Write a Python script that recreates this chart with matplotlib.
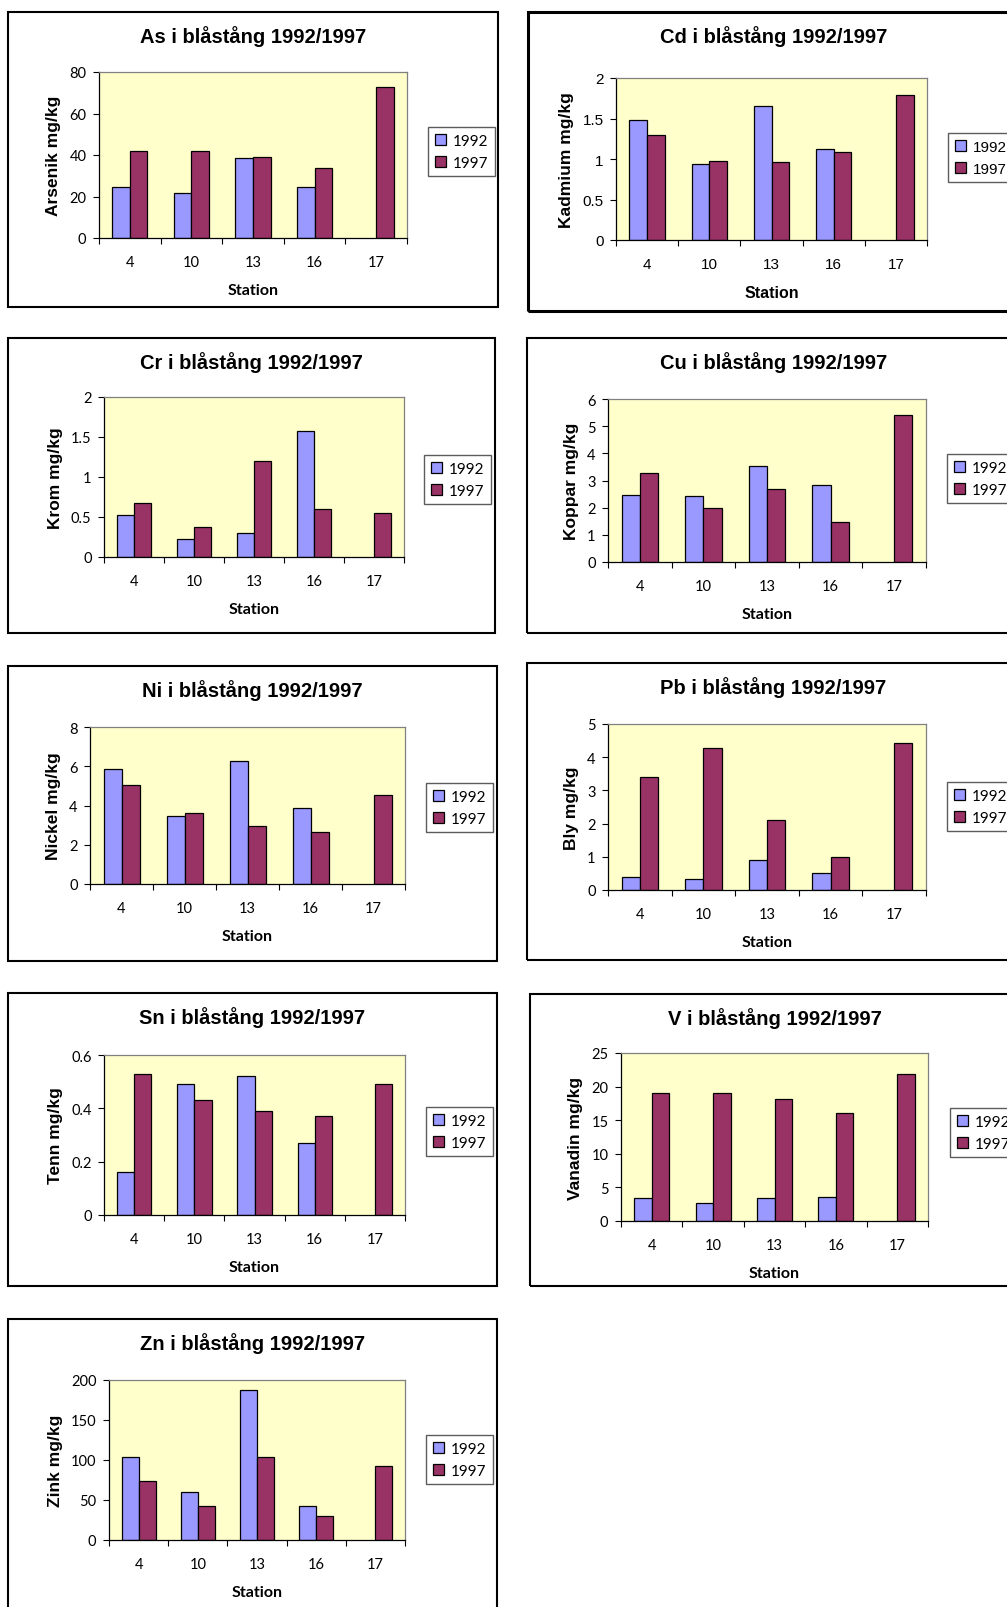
import numpy as np
import matplotlib
matplotlib.use("Agg")
import matplotlib.pyplot as plt
from matplotlib.patches import Rectangle
from matplotlib.ticker import FuncFormatter

# DATA (mg/kg in bladder wrack, 1992 vs 1997)

stations = ["4", "10", "13", "16", "17"]

as_1992 = [24.5, 21.5, 38.5, 24.5, np.nan]
as_1997 = [42.0, 42.0, 39.0, 33.5, 73.0]

cd_1992 = [1.48, 0.94, 1.66, 1.12, np.nan]
cd_1997 = [1.30, 0.98, 0.96, 1.09, 1.79]

cr_1992 = [0.52, 0.22, 0.30, 1.58, np.nan]
cr_1997 = [0.68, 0.38, 1.20, 0.60, 0.55]

cu_1992 = [2.48, 2.42, 3.53, 2.83, np.nan]
cu_1997 = [3.28, 2.00, 2.69, 1.48, 5.41]

ni_1992 = [5.88, 3.46, 6.27, 3.85, np.nan]
ni_1997 = [5.07, 3.61, 2.97, 2.64, 4.51]

pb_1992 = [0.38, 0.32, 0.90, 0.52, np.nan]
pb_1997 = [3.41, 4.28, 2.12, 1.00, 4.43]

sn_1992 = [0.16, 0.49, 0.52, 0.27, np.nan]
sn_1997 = [0.53, 0.43, 0.39, 0.37, 0.49]

v_1992 = [3.4, 2.7, 3.4, 3.6, np.nan]
v_1997 = [19.0, 19.0, 18.1, 16.0, 21.9]

zn_1992 = [104, 60, 188, 42, np.nan]
zn_1997 = [74, 42, 104, 30, 92]

# LAYOUT (pixel boxes in the 1007x1608 picture: left, top, right, bottom)

W, H = 1007, 1608
C1992 = "#9999FF"
C1997 = "#993366"

panels = [
    dict(title="As i blåstång 1992/1997", ylabel="Arsenik mg/kg", v92=as_1992, v97=as_1997,
         ymax=80, step=20, frame=(8, 13, 498, 308), plot=(99, 73, 407, 239), legend=(428, 128)),
    dict(title="Cd i blåstång 1992/1997", ylabel="Kadmium mg/kg", v92=cd_1992, v97=cd_1997,
         ymax=2, step=0.5, frame=(528, 13, 1020, 312), plot=(616, 79, 927, 241), legend=(948, 134),
         arial=True),
    dict(title="Cr i blåstång 1992/1997", ylabel="Krom mg/kg", v92=cr_1992, v97=cr_1997,
         ymax=2, step=0.5, frame=(8, 339, 495, 634), plot=(104, 398, 404, 558), legend=(424, 456)),
    dict(title="Cu i blåstång 1992/1997", ylabel="Koppar mg/kg", v92=cu_1992, v97=cu_1997,
         ymax=6, step=1, frame=(527, 339, 1020, 634), plot=(608, 400, 926, 563), legend=(947, 455)),
    dict(title="Ni i blåstång 1992/1997", ylabel="Nickel mg/kg", v92=ni_1992, v97=ni_1997,
         ymax=8, step=2, frame=(8, 667, 497, 962), plot=(90, 728, 405, 885), legend=(426, 784)),
    dict(title="Pb i blåstång 1992/1997", ylabel="Bly mg/kg", v92=pb_1992, v97=pb_1997,
         ymax=5, step=1, frame=(527, 664, 1020, 961), plot=(608, 725, 926, 891), legend=(947, 783)),
    dict(title="Sn i blåstång 1992/1997", ylabel="Tenn mg/kg", v92=sn_1992, v97=sn_1997,
         ymax=0.6, step=0.2, frame=(8, 994, 497, 1287), plot=(104, 1056, 405, 1216), legend=(426, 1108)),
    dict(title="V i blåstång 1992/1997", ylabel="Vanadin mg/kg", v92=v_1992, v97=v_1997,
         ymax=25, step=5, frame=(530, 995, 1020, 1287), plot=(621, 1054, 928, 1222), legend=(950, 1109)),
    dict(title="Zn i blåstång 1992/1997", ylabel="Zink mg/kg", v92=zn_1992, v97=zn_1997,
         ymax=200, step=50, frame=(8, 1320, 497, 1625), plot=(109, 1381, 405, 1541), legend=(426, 1436)),
]


def fig_box(l, t, r, b):
    return [l / W, 1 - b / H, (r - l) / W, (b - t) / H]


fig = plt.figure(figsize=(W / 100, H / 100), dpi=100)
fig.patch.set_facecolor("white")


def draw_panel(p):
    arial = p.get("arial", False)
    tick_font = "Liberation Sans" if arial else "Lato"
    tick_size = 11 if arial else 10.5

    # chart frame
    fl, ft, fr, fb = p["frame"]
    fig.patches.append(Rectangle((fl / W, 1 - fb / H), (fr - fl) / W, (fb - ft) / H,
                                 transform=fig.transFigure, fill=False, edgecolor="black",
                                 linewidth=2.2 if arial else 1.5, clip_on=False))
    fig.text((fl + fr) / 2 / W, 1 - (ft + 24) / H, p["title"], ha="center", va="center",
             fontsize=14.5, fontweight="bold", family="Liberation Sans")

    ax = fig.add_axes(fig_box(*p["plot"]))
    ax.set_facecolor("#FFFFCC")

    x = np.arange(len(stations))
    w = 1 / 3.5  # Excel default gap width 150%
    ax.bar(x - w / 2, p["v92"], w, color=C1992, edgecolor="black", linewidth=0.9, label="1992")
    ax.bar(x + w / 2, p["v97"], w, color=C1997, edgecolor="black", linewidth=0.9, label="1997")

    ax.set_xlim(-0.5, len(stations) - 0.5)
    ax.set_ylim(0, p["ymax"])
    ax.set_yticks(np.arange(0, p["ymax"] + p["step"] / 2, p["step"]))
    ax.yaxis.set_major_formatter(FuncFormatter(lambda v, pos: f"{v:g}"))

    # tick marks on category borders, labels in the middle
    ax.set_xticks(np.arange(-0.5, len(stations), 1))
    ax.set_xticklabels([])
    ax.set_xticks(x, minor=True)
    ax.set_xticklabels(stations, minor=True)
    ax.tick_params(axis="x", which="major", direction="out", length=4, width=0.8)
    ax.tick_params(axis="x", which="minor", length=0, pad=12.5)
    ax.tick_params(axis="y", direction="out", length=4, width=0.8, pad=5)
    for lab in ax.get_xticklabels(minor=True) + ax.get_yticklabels():
        lab.set_family(tick_font)
        lab.set_fontsize(tick_size)

    for side in ("left", "bottom"):
        ax.spines[side].set_color("black")
        ax.spines[side].set_linewidth(0.9)
    for side in ("top", "right"):
        ax.spines[side].set_color("#808080")
        ax.spines[side].set_linewidth(0.9)

    ax.set_ylabel(p["ylabel"], fontsize=12.5, fontweight="bold", family="Liberation Sans", labelpad=6)
    ax.set_xlabel("Station", fontsize=11.5, fontweight="bold", family=tick_font, labelpad=10)

    lx, ly = p["legend"]
    leg = ax.legend(loc="upper left", bbox_to_anchor=(lx / W, 1 - ly / H),
                    bbox_transform=fig.transFigure, borderaxespad=0,
                    prop={"family": tick_font, "size": 11},
                    frameon=True, fancybox=False, edgecolor="#333333",
                    handlelength=0.75, handleheight=0.75, handletextpad=0.4,
                    borderpad=0.45, labelspacing=0.5)
    leg.get_frame().set_linewidth(1.0)


for p in panels:
    draw_panel(p)

fig.savefig("out.png", dpi=100, facecolor="white")
